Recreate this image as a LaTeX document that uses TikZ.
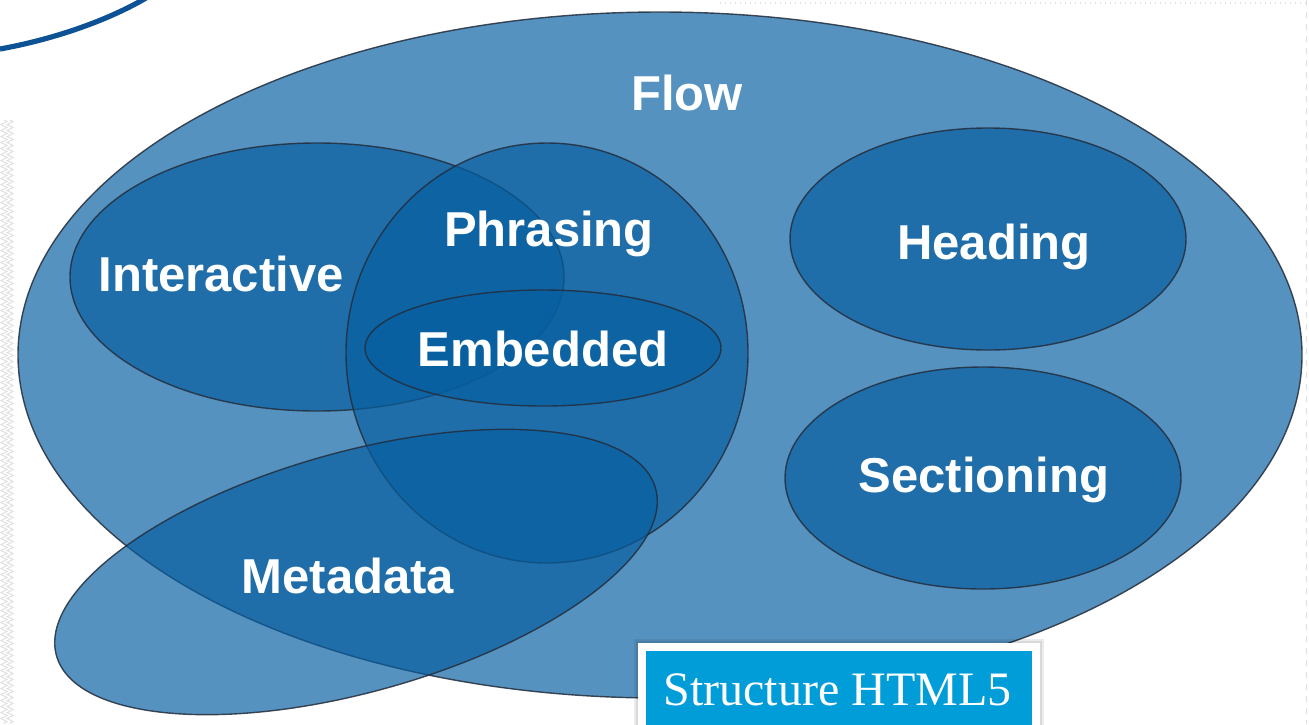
\documentclass[tikz,border=0pt]{standalone}
\usepackage{fontspec}
\setmainfont{Liberation Sans}
\newfontfamily\serifstyle{Liberation Serif}
\usetikzlibrary{decorations.pathmorphing}
\definecolor{setblue}{RGB}{6,94,160}
\definecolor{setline}{RGB}{35,45,60}
\definecolor{arcblue}{RGB}{12,82,148}
\definecolor{labelcyan}{RGB}{0,157,217}
\tikzset{
  setshape/.style={fill=setblue, fill opacity=0.68, draw=setline, draw opacity=0.85, line width=0.7pt},
  setlabel/.style={text=white, font=\fontsize{24.5}{28}\selectfont\bfseries, anchor=base, inner sep=0pt},
  frameline/.style={draw=black!12, line width=0.5pt},
}
\begin{document}
\begin{tikzpicture}[x=0.5pt, y=-0.5pt]
\useasboundingbox (0,0) rectangle (1309,724);
% faint page frame
\draw[frameline, decorate, decoration={zigzag, amplitude=1.5pt, segment length=3pt}] (4,120) -- (4,724);
\draw[frameline, decorate, decoration={zigzag, amplitude=1.5pt, segment length=3pt}] (10,120) -- (10,724);
\draw[frameline, dotted, line width=1pt] (720,3) -- (1309,3);
\draw[frameline, dashed] (1306,0) -- (1306,724);
% decorative arc
\draw[arcblue, line width=2.6pt] (0,49) .. controls (50,40) and (105,22) .. (146,-2);
% sets
\fill[setshape] (660,355) ellipse [x radius=321pt, y radius=171.5pt];
\fill[setshape] (317,277) ellipse [x radius=123.5pt, y radius=67pt];
\fill[setshape] (547,353) ellipse [x radius=100.5pt, y radius=105pt];
\fill[setshape] (543,348) ellipse [x radius=89pt, y radius=29pt];
\begin{scope}[shift={(356,572)}, rotate=15.6]
\fill[setshape] (0,0) ellipse [x radius=155.5pt, y radius=60pt];
\end{scope}
\fill[setshape] (988,239) ellipse [x radius=99pt, y radius=55.5pt];
\fill[setshape] (983,478) ellipse [x radius=99pt, y radius=55.5pt];
% labels
\node[setlabel] (flow) at (687,110) {Flow};
\node[setlabel] (interactive) at (221,291) {Interactive};
\node[setlabel] (phrasing) at (549,246) {Phrasing};
\node[setlabel] (embedded) at (543,366) {Embedded};
\node[setlabel] (heading) at (994,259) {Heading};
\node[setlabel] (sectioning) at (984,492) {Sectioning};
\node[setlabel] (metadata) at (348,593) {Metadata};
% caption box
\fill[black, opacity=0.08] (634,639) rectangle (1044,730);
\fill[black, opacity=0.08] (636,641) rectangle (1042,730);
\fill[white] (638,643) rectangle (1040,730);
\fill[labelcyan] (646,651) rectangle (1032,730);
\node[text=white, font=\serifstyle\fontsize{24}{28}\selectfont, anchor=base west, inner sep=0pt] (caption) at (663,705) {Structure HTML5};
\end{tikzpicture}
\end{document}
